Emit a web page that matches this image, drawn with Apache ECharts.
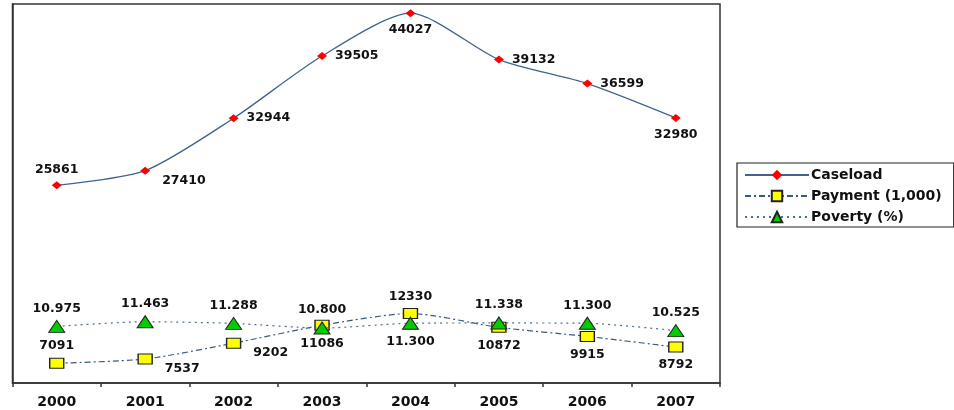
<!DOCTYPE html>
<html>
<head>
<meta charset="utf-8">
<script src="https://cdn.jsdelivr.net/npm/echarts@6/dist/echarts.min.js"></script>
<style>
  html, body { margin: 0; padding: 0; background: #fff; }
  #chart { width: 954px; height: 410px; }
</style>
</head>
<body>
<div id="chart"></div>
<script>
// Years on the category axis
const years = ['2000', '2001', '2002', '2003', '2004', '2005', '2006', '2007'];
// Caseload counts
const caseload = [25861, 27410, 32944, 39505, 44027, 39132, 36599, 32980];
// Payments, in thousands
const payment = [7091, 7537, 9202, 11086, 12330, 10872, 9915, 8792];
// Poverty rate, percent
const poverty = [10.975, 11.463, 11.288, 10.800, 11.300, 11.338, 11.300, 10.525];

// Where each value label sits relative to its point
const caseloadLabelPos = ['top', 'br', 'right', 'right', 'bottom', 'right', 'right', 'bottom'];
const paymentLabelPos = ['top', 'br', 'br', 'bottom', 'top', 'bottom', 'bottom', 'bottom'];
const povertyLabelPos = ['top', 'top', 'top', 'top', 'bottom', 'top', 'top', 'top'];

const FONT = 'DejaVu Sans';

function labelFor(pos, fmt) {
  const base = {
    show: true,
    fontFamily: FONT,
    fontWeight: 'bold',
    fontSize: 12.5,
    color: '#111',
    formatter: fmt
  };
  if (pos === 'br') {
    return Object.assign(base, { position: 'right', distance: 12, offset: [0, 10] });
  }
  if (pos === 'right') {
    return Object.assign(base, { position: 'right', distance: 8 });
  }
  return Object.assign(base, { position: pos, distance: pos === 'top' ? 5 : 6 });
}

function build(values, positions, fmt) {
  return values.map((v, i) => ({ value: v, label: labelFor(positions[i], fmt) }));
}

const chart = echarts.init(document.getElementById('chart'), null, { renderer: 'canvas' });

chart.setOption({
  animation: false,
  backgroundColor: '#fff',
  grid: {
    left: 12.5,
    top: 4,
    right: 234,
    bottom: 27,
    show: true,
    borderColor: '#333',
    borderWidth: 1.5,
    containLabel: false
  },
  legend: {
    orient: 'vertical',
    left: 737,
    top: 163,
    padding: [5, 12, 3, 7],
    borderColor: '#222',
    borderWidth: 1.2,
    itemWidth: 64,
    itemHeight: 13,
    itemGap: 7,
    textStyle: {
      fontFamily: FONT,
      fontWeight: 'bold',
      fontSize: 14,
      lineHeight: 14,
      color: '#111',
      padding: [0, 0, 0, -3]
    },
    data: ['Caseload', 'Payment (1,000)', 'Poverty (%)']
  },
  xAxis: {
    type: 'category',
    data: years,
    boundaryGap: true,
    axisLine: { lineStyle: { color: '#333', width: 1.5 } },
    axisTick: { show: true, length: 4, lineStyle: { color: '#333', width: 1.5 } },
    axisLabel: {
      fontFamily: FONT,
      fontWeight: 'bold',
      fontSize: 14,
      color: '#111',
      margin: 12
    },
    splitLine: { show: false }
  },
  yAxis: [
    {
      type: 'value',
      min: 5000,
      max: 45000,
      show: true,
      axisLine: { show: true, lineStyle: { color: '#333', width: 1.5 } },
      axisTick: { show: false },
      axisLabel: { show: false },
      splitLine: { show: false }
    },
    {
      type: 'value',
      min: 5,
      max: 45,
      show: false,
      splitLine: { show: false }
    }
  ],
  series: [
    {
      name: 'Caseload',
      type: 'line',
      smooth: 0.25,
      yAxisIndex: 0,
      data: build(caseload, caseloadLabelPos, p => String(p.value)),
      symbol: 'diamond',
      symbolSize: [10, 8],
      itemStyle: { color: '#ff0000', borderWidth: 0 },
      lineStyle: { color: '#3f6390', width: 1.3 },
      z: 3
    },
    {
      name: 'Payment (1,000)',
      type: 'line',
      smooth: 0.25,
      yAxisIndex: 0,
      data: build(payment, paymentLabelPos, p => String(p.value)),
      symbol: 'rect',
      symbolSize: [14, 10],
      itemStyle: { color: '#ffff00', borderColor: '#222', borderWidth: 1.2 },
      lineStyle: { color: '#3a5a85', width: 1.2, type: [6, 3, 2, 3] },
      z: 4
    },
    {
      name: 'Poverty (%)',
      type: 'line',
      smooth: 0.25,
      yAxisIndex: 1,
      data: build(poverty, povertyLabelPos, p => p.value.toFixed(3)),
      symbol: 'triangle',
      symbolSize: [16, 12],
      itemStyle: { color: '#00cc00', borderColor: '#222', borderWidth: 1 },
      lineStyle: { color: '#4a6fa0', width: 1.2, type: [2, 4] },
      z: 5
    }
  ]
});
</script>
</body>
</html>
